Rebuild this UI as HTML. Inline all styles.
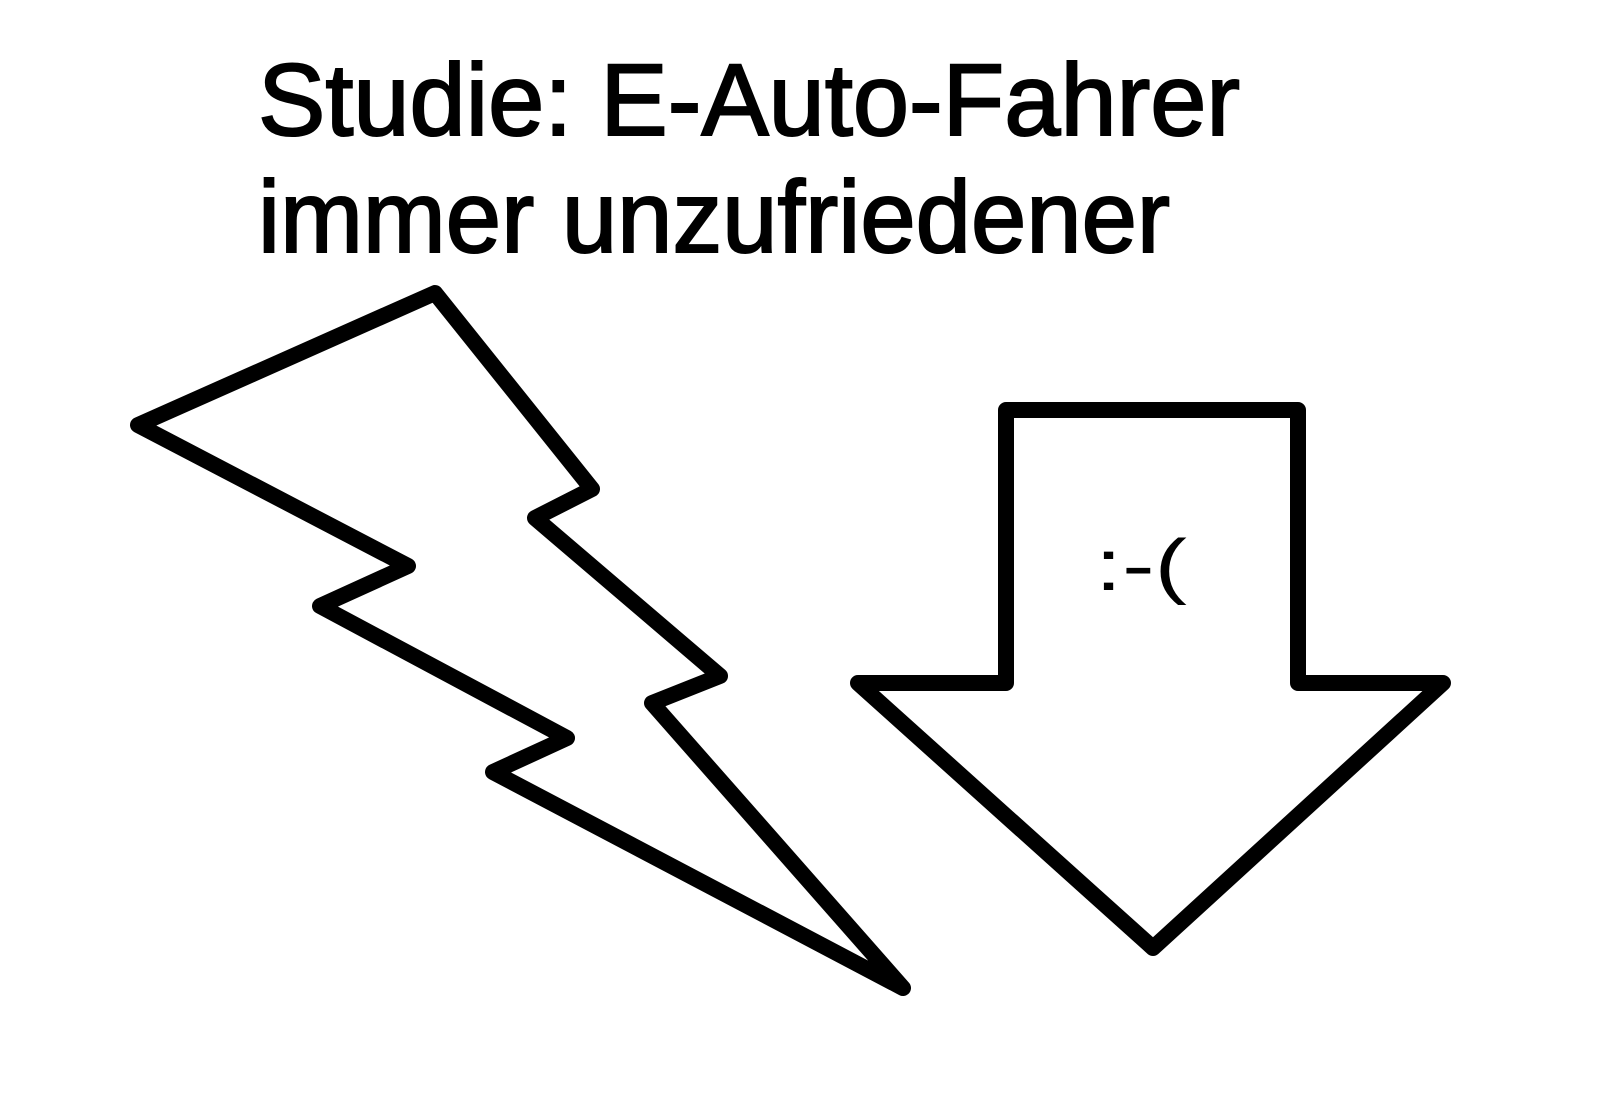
<!DOCTYPE html>
<html><head><style>html,body{margin:0;padding:0;background:#fff}</style></head>
<body>
<svg width="1600" height="1103" viewBox="0 0 1600 1103" xmlns="http://www.w3.org/2000/svg">
<rect width="1600" height="1103" fill="#fff"/>
<g font-family="Liberation Sans, Arial, sans-serif" fill="#000" stroke="#000" stroke-width="2">
<text x="258" y="135" font-size="102" textLength="982" lengthAdjust="spacingAndGlyphs">Studie: E-Auto-Fahrer</text>
<text x="258" y="252" font-size="102" textLength="912" lengthAdjust="spacingAndGlyphs">immer unzufriedener</text>
<text x="1095" y="590" font-size="72" stroke-width="0" textLength="92" lengthAdjust="spacingAndGlyphs">:-(</text>
</g>
<g fill="none" stroke="#000" stroke-width="16" stroke-linejoin="round">
<polygon points="435,293 592,489 535,518 720,676 652,703 903,988 493,772 567,738 320,606 408,566 138,425"/>
<polygon points="1006,410 1298,410 1298,683 1443,683 1153,948 858,683 1006,683"/>
</g>
</svg>
</body></html>
